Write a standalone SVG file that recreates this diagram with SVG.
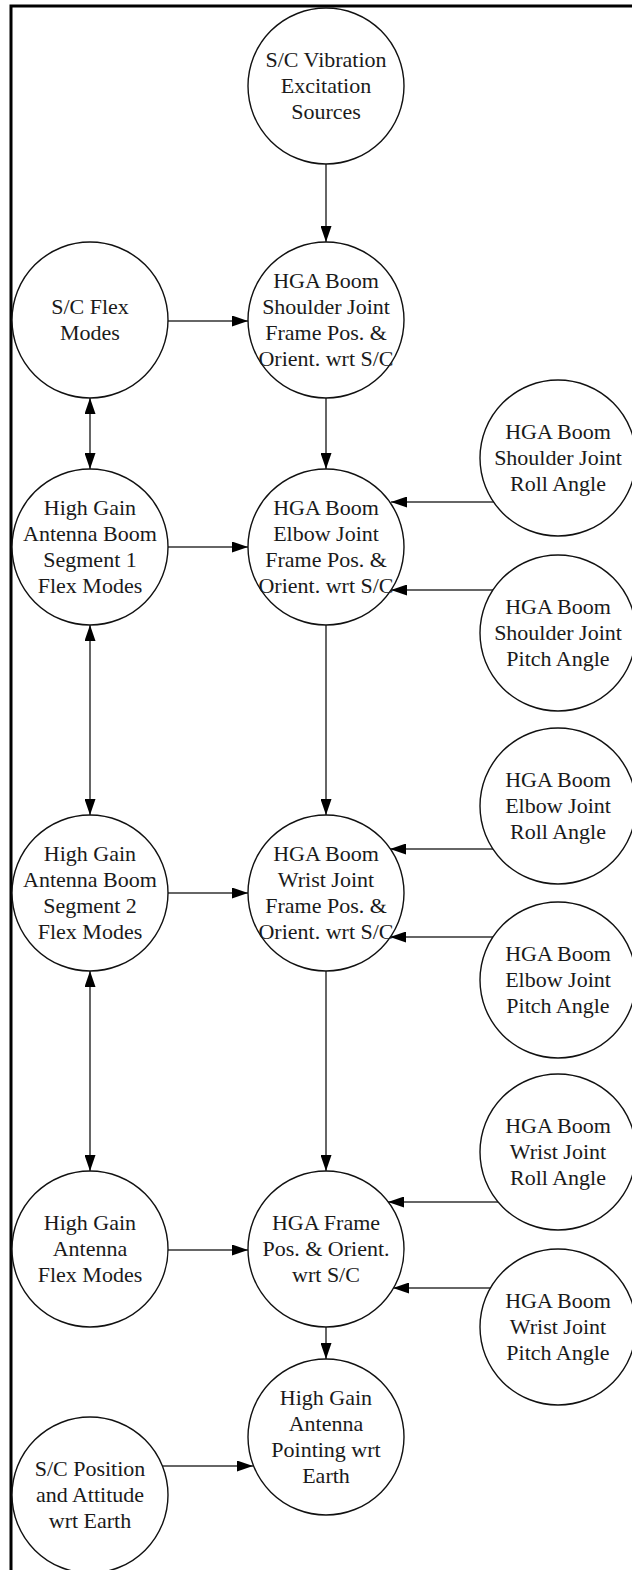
<svg xmlns="http://www.w3.org/2000/svg" width="632" height="1570" viewBox="0 0 632 1570">
<style>
.n{fill:#fff;stroke:#111;stroke-width:1.4}
.t{font-family:"Liberation Serif","Times New Roman",serif;font-size:22px;fill:#1a1a1a;text-anchor:middle}
.c{stroke:#333;stroke-width:1.5;fill:none;marker-end:url(#ah)}
.b{marker-start:url(#ah)}
</style>
<defs>
<marker id="ah" markerUnits="userSpaceOnUse" markerWidth="16" markerHeight="11" refX="16" refY="5.5" orient="auto-start-reverse">
<path d="M0,0 L16,5.5 L0,11 z" fill="#000"/>
</marker>
</defs>
<rect x="11" y="6" width="700" height="1620" fill="#fff" stroke="#000" stroke-width="3"/>
<g id="connectors">
<line class="c" x1="326" y1="164" x2="326" y2="242"/>
<line class="c" x1="326" y1="398" x2="326" y2="469"/>
<line class="c" x1="326" y1="625" x2="326" y2="815"/>
<line class="c" x1="326" y1="971" x2="326" y2="1171"/>
<line class="c" x1="326" y1="1327" x2="326" y2="1359"/>
<line class="c b" x1="90" y1="398" x2="90" y2="469"/>
<line class="c b" x1="90" y1="625" x2="90" y2="815"/>
<line class="c b" x1="90" y1="971" x2="90" y2="1171"/>
<line class="c" x1="168" y1="321" x2="248" y2="321"/>
<line class="c" x1="168" y1="547" x2="248" y2="547"/>
<line class="c" x1="168" y1="893" x2="248" y2="893"/>
<line class="c" x1="168" y1="1250" x2="248" y2="1250"/>
<line class="c" x1="162" y1="1466" x2="253" y2="1466"/>
<line class="c" x1="494" y1="502" x2="391" y2="502"/>
<line class="c" x1="493" y1="590" x2="391" y2="590"/>
<line class="c" x1="493" y1="849" x2="390" y2="849"/>
<line class="c" x1="493" y1="937" x2="390" y2="937"/>
<line class="c" x1="498" y1="1202" x2="388" y2="1202"/>
<line class="c" x1="491" y1="1288" x2="393" y2="1288"/>
</g>
<g id="n1"><circle class="n" cx="326" cy="86" r="78"/><text class="t"><tspan x="326" y="67">S/C Vibration</tspan><tspan x="326" y="93">Excitation</tspan><tspan x="326" y="119">Sources</tspan></text></g>
<g id="n2"><circle class="n" cx="90" cy="320" r="78"/><text class="t"><tspan x="90" y="314">S/C Flex</tspan><tspan x="90" y="340">Modes</tspan></text></g>
<g id="n3"><circle class="n" cx="326" cy="320" r="78"/><text class="t"><tspan x="326" y="288">HGA Boom</tspan><tspan x="326" y="314">Shoulder Joint</tspan><tspan x="326" y="340">Frame Pos. &amp;</tspan><tspan x="326" y="366">Orient. wrt S/C</tspan></text></g>
<g id="n4"><circle class="n" cx="90" cy="547" r="78"/><text class="t"><tspan x="90" y="515">High Gain</tspan><tspan x="90" y="541">Antenna Boom</tspan><tspan x="90" y="567">Segment 1</tspan><tspan x="90" y="593">Flex Modes</tspan></text></g>
<g id="n5"><circle class="n" cx="326" cy="547" r="78"/><text class="t"><tspan x="326" y="515">HGA Boom</tspan><tspan x="326" y="541">Elbow Joint</tspan><tspan x="326" y="567">Frame Pos. &amp;</tspan><tspan x="326" y="593">Orient. wrt S/C</tspan></text></g>
<g id="n6"><circle class="n" cx="558" cy="458" r="78"/><text class="t"><tspan x="558" y="439">HGA Boom</tspan><tspan x="558" y="465">Shoulder Joint</tspan><tspan x="558" y="491">Roll Angle</tspan></text></g>
<g id="n7"><circle class="n" cx="558" cy="633" r="78"/><text class="t"><tspan x="558" y="614">HGA Boom</tspan><tspan x="558" y="640">Shoulder Joint</tspan><tspan x="558" y="666">Pitch Angle</tspan></text></g>
<g id="n8"><circle class="n" cx="90" cy="893" r="78"/><text class="t"><tspan x="90" y="861">High Gain</tspan><tspan x="90" y="887">Antenna Boom</tspan><tspan x="90" y="913">Segment 2</tspan><tspan x="90" y="939">Flex Modes</tspan></text></g>
<g id="n9"><circle class="n" cx="326" cy="893" r="78"/><text class="t"><tspan x="326" y="861">HGA Boom</tspan><tspan x="326" y="887">Wrist Joint</tspan><tspan x="326" y="913">Frame Pos. &amp;</tspan><tspan x="326" y="939">Orient. wrt S/C</tspan></text></g>
<g id="n10"><circle class="n" cx="558" cy="806" r="78"/><text class="t"><tspan x="558" y="787">HGA Boom</tspan><tspan x="558" y="813">Elbow Joint</tspan><tspan x="558" y="839">Roll Angle</tspan></text></g>
<g id="n11"><circle class="n" cx="558" cy="980" r="78"/><text class="t"><tspan x="558" y="961">HGA Boom</tspan><tspan x="558" y="987">Elbow Joint</tspan><tspan x="558" y="1013">Pitch Angle</tspan></text></g>
<g id="n12"><circle class="n" cx="90" cy="1249" r="78"/><text class="t"><tspan x="90" y="1230">High Gain</tspan><tspan x="90" y="1256">Antenna</tspan><tspan x="90" y="1282">Flex Modes</tspan></text></g>
<g id="n13"><circle class="n" cx="326" cy="1249" r="78"/><text class="t"><tspan x="326" y="1230">HGA Frame</tspan><tspan x="326" y="1256">Pos. &amp; Orient.</tspan><tspan x="326" y="1282">wrt S/C</tspan></text></g>
<g id="n14"><circle class="n" cx="558" cy="1152" r="78"/><text class="t"><tspan x="558" y="1133">HGA Boom</tspan><tspan x="558" y="1159">Wrist Joint</tspan><tspan x="558" y="1185">Roll Angle</tspan></text></g>
<g id="n15"><circle class="n" cx="558" cy="1327" r="78"/><text class="t"><tspan x="558" y="1308">HGA Boom</tspan><tspan x="558" y="1334">Wrist Joint</tspan><tspan x="558" y="1360">Pitch Angle</tspan></text></g>
<g id="n16"><circle class="n" cx="326" cy="1437" r="78"/><text class="t"><tspan x="326" y="1405">High Gain</tspan><tspan x="326" y="1431">Antenna</tspan><tspan x="326" y="1457">Pointing wrt</tspan><tspan x="326" y="1483">Earth</tspan></text></g>
<g id="n17"><circle class="n" cx="90" cy="1495" r="78"/><text class="t"><tspan x="90" y="1476">S/C Position</tspan><tspan x="90" y="1502">and Attitude</tspan><tspan x="90" y="1528">wrt Earth</tspan></text></g>
</svg>
